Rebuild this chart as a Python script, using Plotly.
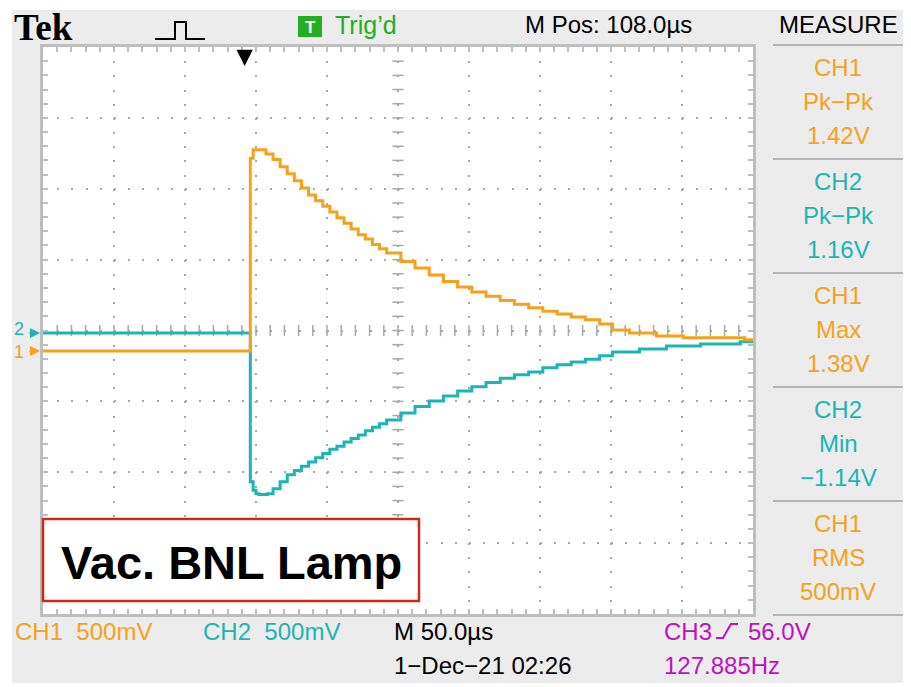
import numpy as np
import plotly.graph_objects as go

# ---------------- data ----------------
ch1_time_us = [-142, 4, 6, 13, 15, 20, 25, 30, 35, 40, 45, 50, 55, 60, 65, 70, 75, 80, 85, 90,
               95, 100, 110, 120, 130, 140, 150, 160, 170, 180, 190, 200, 210, 220, 230, 240,
               250, 259, 271, 290, 309, 352, 358]
ch1_volts = [0.00, 1.36, 1.42, 1.42, 1.39, 1.35, 1.30, 1.25, 1.20, 1.15, 1.10, 1.06, 1.02, 0.98,
             0.94, 0.90, 0.86, 0.82, 0.79, 0.75, 0.72, 0.69, 0.63, 0.585, 0.535, 0.49, 0.45,
             0.415, 0.385, 0.355, 0.33, 0.305, 0.28, 0.26, 0.24, 0.22, 0.19, 0.148, 0.127,
             0.106, 0.092, 0.078, 0.078]

ch2_time_us = [-142, 3, 4, 6, 8, 10, 16, 20, 25, 30, 35, 40, 45, 50, 55, 60, 65, 70, 75, 80,
               85, 90, 95, 100, 110, 120, 130, 140, 150, 160, 170, 180, 190, 200, 210, 220,
               230, 240, 250, 259, 278, 297, 321, 349, 358]
ch2_volts = [0.0, 0.0, -1.05, -1.11, -1.135, -1.14, -1.135, -1.10, -1.05, -1.00, -0.97, -0.94,
             -0.91, -0.88, -0.85, -0.82, -0.80, -0.77, -0.745, -0.72, -0.69, -0.665, -0.64,
             -0.615, -0.565, -0.52, -0.48, -0.445, -0.41, -0.38, -0.35, -0.32, -0.295, -0.275,
             -0.245, -0.225, -0.205, -0.185, -0.162, -0.134, -0.113, -0.092, -0.078, -0.063,
             -0.063]

measure_channels = ["CH1", "CH2", "CH1", "CH2", "CH1"]
measure_names = ["Pk\u2212Pk", "Pk\u2212Pk", "Max", "Min", "RMS"]
measure_values = ["1.42V", "1.16V", "1.38V", "\u22121.14V", "500mV"]

# ---------------- styling / geometry ----------------
W, H = 911, 687            # browser window
OX, OY = 8, 8              # default page body margin
FW, FH = W - OX, 683 - OY  # figure size (grey panel ends at y=683)
L, T, R, B = 43, 47, 753, 614   # plot area in window pixels
T_RANGE = [-142, 358]      # us, 50 us/div, 10 div
V_RANGE = [-2.0, 2.0]      # V, 0.5 V/div, 8 div
CH1_OFFSET_V = -0.144
CH2_OFFSET_V = -0.017

ORANGE = "#F7A11A"
CYAN = "#1BB5B5"
MAGENTA = "#C010C0"
GREEN = "#22B022"
FRAME = "#BEBEBE"
GRID = "#A8A8A8"
PANEL = "#ECECEC"
LCD = "Liberation Sans, Arial, sans-serif"
LCD_SIZE = 24


def px(x):
    return (x - L) / (R - L)


def py(y):
    return (B - y) / (B - T)


fig = go.Figure()

# graticule centre cross-hair ticks
cx = np.arange(T_RANGE[0] + 10, T_RANGE[1], 10)
fig.add_trace(go.Scatter(x=cx, y=np.zeros_like(cx, dtype=float), mode="markers",
                         marker=dict(symbol="line-ns", size=8, line=dict(width=1.5, color=GRID)),
                         hoverinfo="skip", showlegend=False))
cy = np.arange(V_RANGE[0] + 0.1, V_RANGE[1] - 0.05, 0.1)
fig.add_trace(go.Scatter(x=np.full_like(cy, 108.0), y=cy, mode="markers",
                         marker=dict(symbol="line-ew", size=8, line=dict(width=1.5, color=GRID)),
                         hoverinfo="skip", showlegend=False))

# channel traces
fig.add_trace(go.Scatter(x=ch2_time_us, y=np.array(ch2_volts) + CH2_OFFSET_V, mode="lines",
                         line=dict(color=CYAN, width=3, shape="hv"), name="CH2",
                         showlegend=False))
fig.add_trace(go.Scatter(x=ch1_time_us, y=np.array(ch1_volts) + CH1_OFFSET_V, mode="lines",
                         line=dict(color=ORANGE, width=3, shape="hv"), name="CH1",
                         showlegend=False))

fig.update_xaxes(range=T_RANGE, tick0=T_RANGE[0], dtick=50, showgrid=True, gridcolor=GRID,
                 gridwidth=2, griddash="2px,12.175px", zeroline=False, showticklabels=False,
                 ticks="inside", ticklen=5, tickcolor=FRAME, tickwidth=1.5, showline=True,
                 linecolor=FRAME, linewidth=3, mirror="allticks", fixedrange=True,
                 minor=dict(ticks="inside", ticklen=5, dtick=10, tick0=T_RANGE[0],
                            tickcolor=FRAME, tickwidth=1.5, showgrid=False))
fig.update_yaxes(range=V_RANGE, tick0=V_RANGE[0], dtick=0.5, showgrid=True, gridcolor=GRID,
                 gridwidth=2, griddash="2px,12.2px", zeroline=False, showticklabels=False,
                 ticks="inside", ticklen=5, tickcolor=FRAME, tickwidth=1.5, showline=True,
                 linecolor=FRAME, linewidth=3, mirror="allticks", fixedrange=True,
                 minor=dict(ticks="inside", ticklen=5, dtick=0.1, tick0=V_RANGE[0],
                            tickcolor=FRAME, tickwidth=1.5, showgrid=False))

shapes = []
# white outer margins (beyond the page's own 8px body margin)
shapes.append(dict(type="rect", xref="paper", yref="paper", x0=px(0), x1=px(12), y0=py(H), y1=py(0),
                   fillcolor="white", line=dict(width=0), layer="above"))
shapes.append(dict(type="rect", xref="paper", yref="paper", x0=px(0), x1=px(W), y0=py(10), y1=py(0),
                   fillcolor="white", line=dict(width=0), layer="above"))
# measure separators
for i in range(6):
    yy = 45 + 114 * i
    shapes.append(dict(type="line", xref="paper", yref="paper", x0=px(773), x1=px(905),
                       y0=py(yy), y1=py(yy), line=dict(color="#B4B4B4", width=2)))
# pulse glyph
shapes.append(dict(type="path", xref="paper", yref="paper",
                   path=f"M {px(155)},{py(39)} L {px(175)},{py(39)} L {px(175)},{py(22)} "
                        f"L {px(186)},{py(22)} L {px(186)},{py(39)} L {px(205)},{py(39)}",
                   line=dict(color="black", width=2)))
# green trig box
shapes.append(dict(type="rect", xref="paper", yref="paper", x0=px(298), x1=px(322),
                   y0=py(37), y1=py(16), fillcolor=GREEN, line=dict(width=0)))
# CH3 rising edge glyph
shapes.append(dict(type="path", xref="paper", yref="paper",
                   path=f"M {px(716)},{py(638)} L {px(723)},{py(638)} L {px(731)},{py(624)} "
                        f"L {px(738)},{py(624)}",
                   line=dict(color=MAGENTA, width=2)))
# label box
shapes.append(dict(type="rect", xref="paper", yref="paper", x0=px(43), x1=px(419),
                   y0=py(601), y1=py(519), fillcolor="white",
                   line=dict(color="#CC2A18", width=2.5), layer="above"))

ann = []


def text(s, x, y, color="black", size=LCD_SIZE, family=LCD, xanchor="left", bold=False):
    if bold:
        s = "<b>" + s + "</b>"
    ann.append(dict(text=s, x=px(x), y=py(y), xref="paper", yref="paper", showarrow=False,
                    xanchor=xanchor, yanchor="middle",
                    font=dict(color=color, size=size, family=family)))


text("Tek", 12, 27, size=37, family="Liberation Serif, DejaVu Serif, serif", bold=True)
text("T", 310, 27, color="white", size=17, family="Liberation Sans, sans-serif", xanchor="center",
     bold=True)
text("Trig\u2019d", 333, 25, color=GREEN, size=25)
text("M Pos: 108.0\u00b5s", 523, 25)
text("MEASURE", 838, 25, xanchor="center")

for i in range(5):
    top = 45 + 114 * i
    col = ORANGE if measure_channels[i] == "CH1" else CYAN
    text(measure_channels[i], 838, top + 22, color=col, xanchor="center")
    text(measure_names[i], 838, top + 56, color=col, xanchor="center")
    text(measure_values[i], 838, top + 90, color=col, xanchor="center")

text("CH1\u00a0\u00a0500mV", 13, 632, color=ORANGE)
text("CH2\u00a0\u00a0500mV", 201, 632, color=CYAN)
text("M 50.0\u00b5s", 392, 632)
text("1\u2212Dec\u221221 02:26", 392, 665)
text("CH3", 662, 632, color=MAGENTA)
text("56.0V", 746, 632, color=MAGENTA)
text("127.885Hz", 662, 665, color=MAGENTA)

text("Vac. BNL Lamp", 231, 562, size=47, family="Liberation Sans, Arial, sans-serif",
     xanchor="center", bold=True)

# channel ground markers
text("2", 19, 329, color=CYAN, size=18, xanchor="center")
text("1", 19, 352, color=ORANGE, size=18, xanchor="center")
for off, col in [(CH2_OFFSET_V, CYAN), (CH1_OFFSET_V, ORANGE)]:
    ann.append(dict(text="", x=px(40), y=off, xref="paper", yref="y", showarrow=True,
                    ax=-12, ay=0, arrowhead=2, arrowsize=1, arrowwidth=2, arrowcolor=col))
# trigger position arrow
ann.append(dict(text="", x=0, y=py(66), xref="x", yref="paper", showarrow=True,
                ax=0, ay=-15, arrowhead=2, arrowsize=1.3, arrowwidth=2.5, arrowcolor="black"))

fig.update_layout(width=FW, height=FH,
                  margin=dict(l=L - OX, r=W - R, t=T - OY, b=(OY + FH) - B),
                  paper_bgcolor=PANEL, plot_bgcolor="white", showlegend=False,
                  shapes=shapes, annotations=ann, hovermode=False)

fig.write_html("out.html")
